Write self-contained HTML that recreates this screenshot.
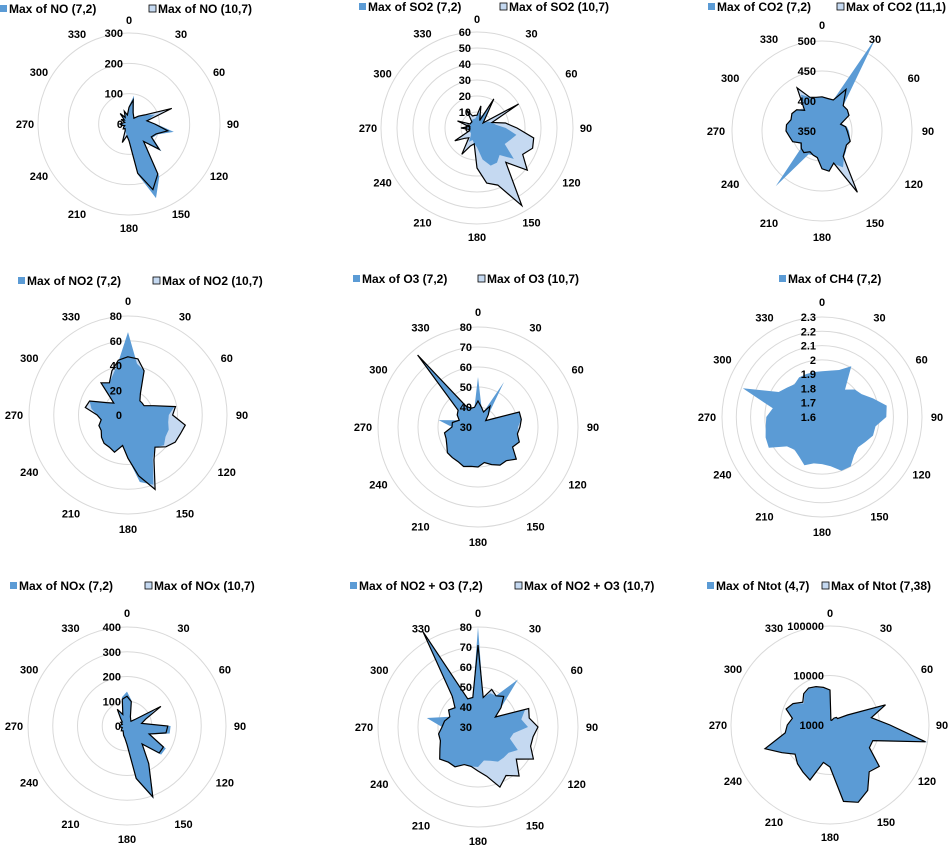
<!DOCTYPE html>
<html><head><meta charset="utf-8"><style>
body{margin:0;background:#fff}
svg{display:block}
text{font-family:"Liberation Sans",Arial,sans-serif;font-weight:bold;font-size:11px;fill:#000}
text.lg{font-size:12px}
</style></head><body>
<svg id="chart" width="949" height="847" viewBox="0 0 949 847" xmlns="http://www.w3.org/2000/svg"></svg>
<script>
const directions = [0,10,20,30,40,50,60,70,80,90,100,110,120,130,140,150,160,170,180,190,200,210,220,230,240,250,260,270,280,290,300,310,320,330,340,350];
const angleLabels = [0,30,60,90,120,150,180,210,240,270,300,330];

const noA  = [60,95,45,30,25,40,60,90,60,90,150,100,90,140,80,200,260,170,60,40,30,25,20,25,20,15,25,35,20,15,30,20,40,25,45,30];
const noB  = [55,80,40,30,25,40,60,150,60,85,130,95,85,130,75,190,230,165,55,40,65,25,20,25,20,15,25,30,20,15,30,20,45,25,45,30];
const so2A = [8,10,8,15,8,5,8,10,12,18,25,22,20,30,22,25,25,20,12,10,8,10,6,5,5,5,5,6,5,5,5,5,5,6,6,6];
const so2B = [8,14,5,21,8,5,30,10,18,25,36,37,33,41,28,56,38,35,25,10,12,19,8,10,16,5,5,10,5,13,5,5,5,13,8,8];
const co2A = [407,405,405,530,405,405,402,385,392,395,397,400,398,402,407,420,408,418,413,395,393,395,470,397,392,402,405,410,410,405,408,405,398,420,410,407];
const co2B = [407,405,405,430,405,405,402,383,390,392,395,400,397,400,405,468,407,418,413,395,393,390,397,395,390,402,405,410,410,405,408,405,395,433,410,407];
const no2A = [67,42,38,20,15,15,15,22,38,33,33,35,35,38,34,40,60,55,35,25,32,30,30,28,25,25,22,25,30,33,20,15,34,30,35,44];
const no2B = [47,46,38,20,15,15,15,22,39,36,47,45,44,40,34,42,64,50,35,25,32,30,30,28,25,25,22,25,35,33,20,15,34,30,38,45];
const o3A  = [55,40,38,56,38,35,38,52,52,50,50,52,50,55,52,52,50,48,50,50,51,50,50,50,48,47,47,43,50,40,42,43,76,42,40,40];
const o3B  = [43,40,38,42,38,35,38,52,52,51,50,52,50,55,52,52,50,48,50,50,51,50,50,50,48,47,47,43,43,40,42,43,77,42,40,40];
const ch4A = [1.92,1.93,1.95,2.01,1.85,1.9,1.92,1.98,2.06,2.05,1.98,1.98,1.95,1.93,1.95,2.0,2.0,1.95,1.93,1.93,1.96,1.92,1.9,1.92,2.03,2.02,2.0,1.99,1.95,2.19,1.95,1.92,1.9,1.92,1.92,1.92];
const noxA = [139,105,40,30,25,40,130,80,60,176,175,100,181,180,100,180,313,220,80,50,40,30,25,30,25,20,25,35,25,20,30,25,40,80,50,118];
const noxB = [120,100,40,30,25,40,158,80,60,165,160,95,170,170,95,175,305,215,75,50,40,30,25,30,25,20,25,30,25,20,30,25,40,78,50,110];
const nooA = [80,45,48,48,61,45,40,55,52,55,48,47,53,50,50,50,48,47,50,50,50,53,53,55,52,50,50,48,56,45,47,45,50,82,45,45];
const nooB = [71,45,50,48,50,45,40,57,56,60,58,58,62,55,62,58,62,55,52,50,50,53,53,55,52,50,50,48,47,45,47,45,50,85,45,45];
const ntA  = [5100,1260,1260,1450,1590,1590,2540,15600,7050,16300,100000,8100,8100,19600,16300,32700,45000,36000,7050,5850,14800,12300,10200,8100,12900,23700,8100,7050,5700,8500,7050,4860,6430,7050,6430,5700];
const ntB  = [5100,1260,1260,1450,1590,1590,2540,15600,7050,16300,91000,8300,8300,20000,17000,33500,46000,37000,7050,5850,15200,12500,10500,8300,13200,25000,8300,7300,5900,8800,7300,5200,6700,7300,6700,5900];

const NS='http://www.w3.org/2000/svg';
const svg=document.getElementById('chart');
function mk(tag,attrs,parent){const e=document.createElementNS(NS,tag);for(const k in attrs)e.setAttribute(k,attrs[k]);(parent||svg).appendChild(e);return e;}

function radar(cfg){
  const g=mk('g',{});
  
  
  const rScale = cfg.log
    ? v=>Math.max(0,(Math.log10(v)-Math.log10(cfg.min))/(Math.log10(cfg.max)-Math.log10(cfg.min))*cfg.R)
    : v=>Math.max(0,(v-cfg.min)/(cfg.max-cfg.min)*cfg.R);
  const pt=(deg,v)=>{const a=deg*Math.PI/180,r=rScale(v);return [cfg.cx+r*Math.sin(a),cfg.cy-r*Math.cos(a)];};
  cfg.rings.forEach(v=>{
    const c=mk('circle',{cx:cfg.cx,cy:cfg.cy,r:rScale(v),fill:'none',stroke:'#d9d9d9','stroke-width':1},g);
    
    
  });
  const poly=(vals)=>directions.map((d,i)=>pt(d,vals[i]).map(n=>n.toFixed(1)).join(',')).join(' ');
  if(cfg.b){
    const pb=mk('polygon',{points:poly(cfg.b),fill:'#c5d9f1',stroke:'none'},g);
    
    
  }
  const pa=mk('polygon',{points:poly(cfg.a),fill:'#5b9bd5',stroke:'none'},g);
  
  
  if(cfg.b){
    const pl=mk('polygon',{points:poly(cfg.b),fill:'none',stroke:'#000','stroke-width':1.2,'stroke-linejoin':'miter'},g);
    
    
  }
  cfg.ticks.forEach((v,i)=>{
    const t=mk('text',{x:cfg.cx-6,y:cfg.cy-rScale(v)+4,'text-anchor':'end'},g);
    t.textContent=cfg.tickText[i];
    
    
  });
  angleLabels.forEach(d=>{
    const a=d*Math.PI/180;
    const t=mk('text',{x:cfg.cx+cfg.L*Math.sin(a),y:cfg.cy-cfg.L*Math.cos(a)+4,'text-anchor':'middle'},g);
    t.textContent=String(d);
    
    
  });
  cfg.legend.forEach((lg,i)=>{
    const m=mk('rect',{x:lg.x,y:cfg.ly-8,width:7,height:7,fill:i===0?'#5b9bd5':'#c5d9f1',stroke:i===0?'none':'#000','stroke-width':0.8},g);
    
    
    const t=mk('text',{x:lg.x+9,y:cfg.ly,fill:lg.c||'#000','class':'lg'},g);
    t.textContent=lg.t;
    
    
  });
}

radar({name:'no-chart',cx:129,cy:124,R:91,L:104,min:0,max:300,rings:[100,200,300],ticks:[0,100,200,300],tickText:['0','100','200','300'],a:noA,b:noB,ly:13,legend:[{x:0,t:'Max of NO  (7,2)'},{x:149,t:'Max of NO  (10,7)'}]});
radar({name:'so2-chart',cx:477,cy:128,R:96,L:109,min:0,max:60,rings:[10,20,30,40,50,60],ticks:[0,10,20,30,40,50,60],tickText:['0','10','20','30','40','50','60'],a:so2A,b:so2B,ly:11,legend:[{x:359,t:'Max of SO2 (7,2)'},{x:500,t:'Max of SO2 (10,7)'}]});
radar({name:'co2-chart',cx:822,cy:131,R:90,L:106,min:350,max:500,rings:[400,450,500],ticks:[350,400,450,500],tickText:['350','400','450','500'],a:co2A,b:co2B,ly:11,legend:[{x:708,t:'Max of CO2 (7,2)'},{x:837,t:'Max of CO2 (11,1)'}]});
radar({name:'no2-chart',cx:128,cy:415,R:99,L:114,min:0,max:80,rings:[20,40,60,80],ticks:[0,20,40,60,80],tickText:['0','20','40','60','80'],a:no2A,b:no2B,ly:285,legend:[{x:18,t:'Max of NO2  (7,2)'},{x:153,t:'Max of NO2  (10,7)'}]});
radar({name:'o3-chart',cx:478,cy:427,R:100,L:115,min:30,max:80,rings:[40,50,60,70,80],ticks:[30,40,50,60,70,80],tickText:['30','40','50','60','70','80'],a:o3A,b:o3B,ly:283,legend:[{x:353,t:'Max of O3  (7,2)'},{x:478,t:'Max of O3  (10,7)'}]});
radar({name:'ch4-chart',cx:822,cy:417,R:100,L:115,min:1.6,max:2.3,rings:[1.7,1.8,1.9,2.0,2.1,2.2,2.3],ticks:[1.6,1.7,1.8,1.9,2.0,2.1,2.2,2.3],tickText:['1.6','1.7','1.8','1.9','2','2.1','2.2','2.3'],a:ch4A,b:null,ly:283,legend:[{x:779,t:'Max of CH4 (7,2)',c:'#808080'}]});
radar({name:'nox-chart',cx:127,cy:726,R:99,L:113,min:0,max:400,rings:[100,200,300,400],ticks:[0,100,200,300,400],tickText:['0','100','200','300','400'],a:noxA,b:noxB,ly:590,legend:[{x:10,t:'Max of NOx (7,2)'},{x:145,t:'Max of NOx (10,7)'}]});
radar({name:'no2-o3-chart',cx:478,cy:727,R:100,L:114,min:30,max:80,rings:[40,50,60,70,80],ticks:[30,40,50,60,70,80],tickText:['30','40','50','60','70','80'],a:nooA,b:nooB,ly:590,legend:[{x:350,t:'Max of NO2 + O3 (7,2)'},{x:515,t:'Max of NO2 + O3 (10,7)'}]});
radar({name:'ntot-chart',cx:830,cy:725,R:99,L:112,log:true,min:1000,max:100000,rings:[10000,100000],ticks:[1000,10000,100000],tickText:['1000','10000','100000'],a:ntA,b:ntB,ly:590,legend:[{x:707,t:'Max of Ntot (4,7)'},{x:822,t:'Max of Ntot (7,38)'}]});
</script>
</body></html>
